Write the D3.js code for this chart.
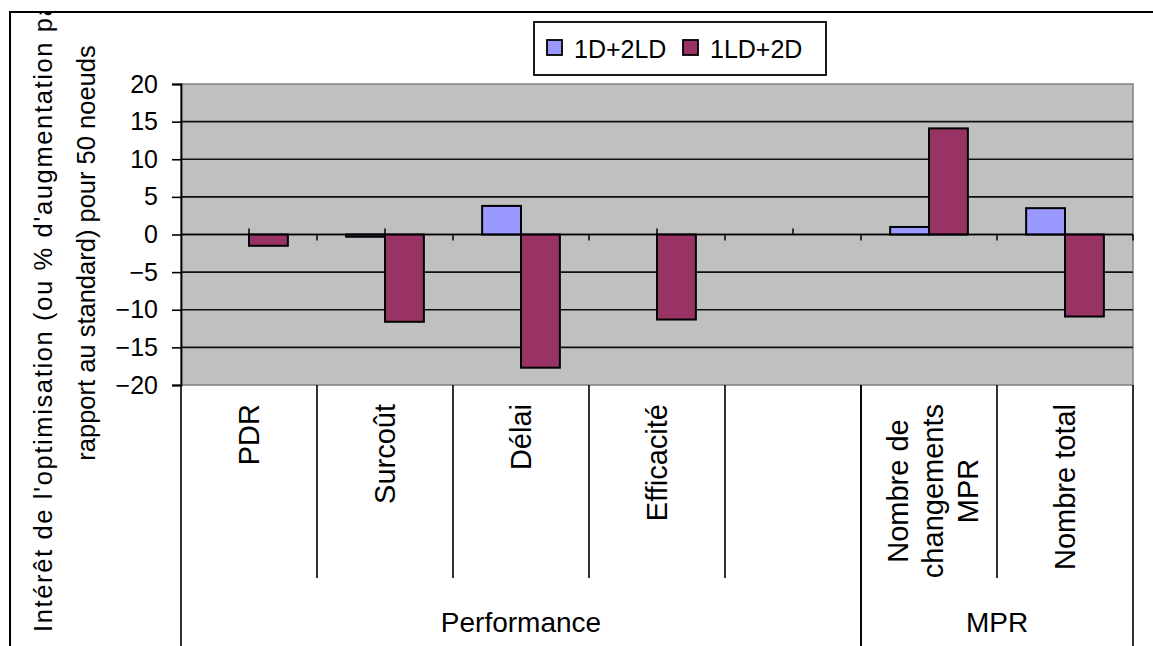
<!DOCTYPE html>
<html>
<head>
<meta charset="utf-8">
<script src="https://cdn.jsdelivr.net/npm/d3@7"></script>
<style>
  body { margin: 0; background: #fff; }
  text { font-family: "Liberation Sans", Arial, sans-serif; fill: #000; }
</style>
</head>
<body>
<div id="chart"></div>
<script>
// chart data
var categories = ["PDR", "Surcoût", "Délai", "Efficacité", "", "Nombre de changements MPR", "Nombre total"];
var categoryLines = [["PDR"], ["Surcoût"], ["Délai"], ["Efficacité"], [""], ["Nombre de", "changements", "MPR"], ["Nombre total"]];
var groupNames = ["Performance", "MPR"];
var groupSpan = [5, 2];
var seriesNames = ["1D+2LD", "1LD+2D"];
var seriesColors = ["#9999ff", "#993366"];
var values1D2LD = [0, -0.3, 3.8, 0, null, 1.0, 3.5];
var values1LD2D = [-1.5, -11.6, -17.7, -11.3, null, 14.1, -10.9];
var yTicks = [-20, -15, -10, -5, 0, 5, 10, 15, 20];
var yTitle = ["Intérêt de l'optimisation (ou % d'augmentation par", "rapport au standard) pour 50 noeuds"];

var W = 1153, H = 646;
var plot = {left: 181, right: 1133, top: 84, bottom: 385};

var svg = d3.select("#chart").append("svg")
    .attr("width", W)
    .attr("height", H);

// clip everything to the chart frame
svg.append("clipPath").attr("id", "frame")
  .append("rect").attr("x", 10).attr("y", 13).attr("width", W).attr("height", H);

var root = svg.append("g").attr("clip-path", "url(#frame)");

// set the ranges
var x = d3.scaleBand()
    .domain(d3.range(categories.length))
    .range([plot.left, plot.right]);
var barW = x.bandwidth() / 3.5;
var xs = d3.scaleBand()
    .domain(seriesNames)
    .range([barW * 0.75, barW * 2.75]);
var y = d3.scaleLinear().domain([-20, 20]).range([plot.bottom, plot.top]);

// plot area
root.append("rect")
    .attr("x", plot.left).attr("y", plot.top)
    .attr("width", plot.right - plot.left).attr("height", plot.bottom - plot.top)
    .attr("fill", "#c0c0c0")
    .attr("stroke", "#808080")
    .attr("stroke-width", 1.5);

// gridlines
root.append("g").selectAll("line")
    .data(yTicks.filter(function(d) { return d > -20 && d < 20; }))
  .enter().append("line")
    .attr("x1", plot.left).attr("x2", plot.right)
    .attr("y1", function(d) { return y(d); })
    .attr("y2", function(d) { return y(d); })
    .attr("stroke", "#111")
    .attr("stroke-width", 1.6);

// bars
var seriesData = [values1D2LD, values1LD2D];
seriesData.forEach(function(vals, si) {
  root.append("g").selectAll("rect")
      .data(vals.map(function(v, i) { return {i: i, v: v}; })
        .filter(function(d) { return d.v; }))
    .enter().append("rect")
      .attr("x", function(d) { return x(d.i) + xs(seriesNames[si]); })
      .attr("width", xs.bandwidth())
      .attr("y", function(d) { return y(Math.max(0, d.v)); })
      .attr("height", function(d) { return Math.max(1, Math.abs(y(d.v) - y(0))); })
      .attr("fill", seriesColors[si])
      .attr("stroke", "#000")
      .attr("stroke-width", 2);
});

// category axis on zero line
var zeroAxis = root.append("g");
zeroAxis.append("line")
    .attr("x1", plot.left).attr("x2", plot.right)
    .attr("y1", y(0)).attr("y2", y(0))
    .attr("stroke", "#000").attr("stroke-width", 1.6);
zeroAxis.selectAll(".tb")
    .data(d3.range(1, categories.length + 1))
  .enter().append("line")
    .attr("x1", function(d) { return plot.left + d * x.step(); })
    .attr("x2", function(d) { return plot.left + d * x.step(); })
    .attr("y1", y(0)).attr("y2", y(0) + 6)
    .attr("stroke", "#000").attr("stroke-width", 1.5);
zeroAxis.selectAll(".tc")
    .data(d3.range(categories.length))
  .enter().append("line")
    .attr("x1", function(d) { return x(d) + x.bandwidth() / 2; })
    .attr("x2", function(d) { return x(d) + x.bandwidth() / 2; })
    .attr("y1", y(0)).attr("y2", y(0) - 6)
    .attr("stroke", "#000").attr("stroke-width", 1.5);

// Add the Y Axis
var yAxis = root.append("g")
    .attr("transform", "translate(" + plot.left + ",0)")
    .call(d3.axisLeft(y).tickValues(yTicks).tickSize(9).tickPadding(14));
yAxis.select(".domain").attr("stroke", "#000").attr("stroke-width", 1.8);
yAxis.selectAll(".tick line").attr("stroke", "#000").attr("stroke-width", 1.6);
yAxis.selectAll("text")
    .style("font-family", "'Liberation Sans', Arial, sans-serif")
    .style("font-size", "25px")
    .attr("fill", "#000");

// category label cells
var bottomY = 578;
var cellLines = root.append("g");
var idx = 0;
groupSpan.forEach(function(span, gi) {
  var gx0 = plot.left + idx * x.step();
  var gx1 = plot.left + (idx + span) * x.step();
  // group boundaries
  [gx0, gx1].forEach(function(gx) {
    cellLines.append("line")
        .attr("x1", gx).attr("x2", gx)
        .attr("y1", plot.bottom).attr("y2", H)
        .attr("stroke", "#000").attr("stroke-width", 1.6);
  });
  // inner boundaries
  for (var k = 1; k < span; k++) {
    var ix = plot.left + (idx + k) * x.step();
    cellLines.append("line")
        .attr("x1", ix).attr("x2", ix)
        .attr("y1", plot.bottom).attr("y2", bottomY)
        .attr("stroke", "#000").attr("stroke-width", 1.6);
  }
  root.append("text")
      .attr("x", (gx0 + gx1) / 2)
      .attr("y", 632)
      .attr("text-anchor", "middle")
      .style("font-size", "28px")
      .text(groupNames[gi]);
  idx += span;
});

// category labels, rotated
categoryLines.forEach(function(lines, i) {
  var n = lines.length;
  var cx = x(i) + x.bandwidth() / 2 + (n > 1 ? 4 : 0);
  var g = root.append("g");
  var t = g.append("text")
      .attr("text-anchor", "middle")
      .style("font-size", "29px");
  lines.forEach(function(s, li) {
    t.append("tspan")
        .attr("x", 0)
        .attr("y", (li - (n - 1) / 2) * 35)
        .attr("dy", "0.35em")
        .text(s);
  });
  var maxLen = d3.max(t.selectAll("tspan").nodes(), function(nd) { return nd.getComputedTextLength(); });
  g.attr("transform", "translate(" + cx + "," + (404 + maxLen / 2) + ") rotate(-90)");
});

// text label for the y axis (two lines, the first one clipped at the top by the frame)
root.append("text")
    .attr("transform", "translate(52,632) rotate(-90)")
    .attr("text-anchor", "start")
    .attr("textLength", 640)
    .attr("lengthAdjust", "spacing")
    .style("font-size", "25.5px")
    .text(yTitle[0]);
root.append("text")
    .attr("transform", "translate(95,253) rotate(-90)")
    .attr("text-anchor", "middle")
    .style("font-size", "25.5px")
    .text(yTitle[1]);

// legend
var legend = root.append("g");
legend.append("rect")
    .attr("x", 534).attr("y", 22).attr("width", 292).attr("height", 53)
    .attr("fill", "#fff").attr("stroke", "#000").attr("stroke-width", 1.8);
var legX = [547, 683];
seriesNames.forEach(function(s, i) {
  legend.append("rect")
      .attr("x", legX[i]).attr("y", 40).attr("width", 15).attr("height", 15)
      .attr("fill", seriesColors[i]).attr("stroke", "#000").attr("stroke-width", 1.8);
  legend.append("text")
      .attr("x", legX[i] + 27).attr("y", 58)
      .style("font-size", "25px")
      .text(s);
});

// chart frame
svg.append("rect")
    .attr("x", 10).attr("y", 12).attr("width", W + 20).attr("height", H + 20)
    .attr("fill", "none").attr("stroke", "#000").attr("stroke-width", 2);
</script>
</body>
</html>
